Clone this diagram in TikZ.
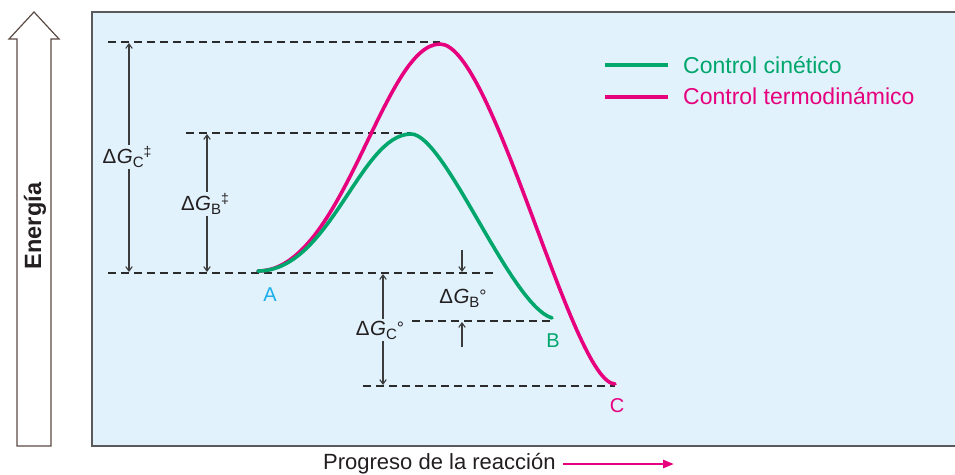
\documentclass[tikz,border=0pt]{standalone}
\usepackage{fontspec}
\setmainfont{Liberation Sans}
\usetikzlibrary{arrows.meta}
\definecolor{bgblue}{HTML}{E1F2FC}
\definecolor{kgreen}{HTML}{00A66B}
\definecolor{tmag}{HTML}{E6007E}
\definecolor{acyan}{HTML}{1AAEEA}
\definecolor{dashgray}{HTML}{2B2B2B}
\definecolor{dimgray}{HTML}{3C3C3C}
\definecolor{arrbrown}{HTML}{5B4A44}
\definecolor{framegray}{HTML}{5A5A5A}
\definecolor{inkblack}{HTML}{231F20}
\newcommand{\subtxt}[1]{\raisebox{-4pt}{\fontsize{15}{15}\selectfont #1}}
\newcommand{\dagtxt}{\raisebox{6.5pt}{\fontsize{14}{14}\selectfont ‡}}
\newcommand{\degtxt}{\raisebox{0.5pt}{\fontsize{18}{18}\selectfont °}}
\begin{document}
\begin{tikzpicture}[x=1pt,y=-1pt,
  guide/.style={draw=dashgray, line width=1.25pt, dash pattern=on 8pt off 5pt},
  dim/.style={draw=dimgray, line width=1.1pt, {Straight Barb[length=4.5pt,width=6.5pt]}-{Straight Barb[length=4.5pt,width=6.5pt]}},
  dimone/.style={draw=dimgray, line width=1.1pt, -{Straight Barb[length=4.5pt,width=6.5pt]}},
  lbl/.style={font=\fontsize{20.5}{22}\selectfont, text=inkblack, inner sep=1.5pt, fill=bgblue},
  curve/.style={line width=3.6pt, line cap=round},
  legtxt/.style={font=\fontsize{23}{27}\selectfont, anchor=base west, inner sep=0pt},
  ptlbl/.style={font=\fontsize{20}{22}\selectfont, inner sep=0pt}
]
\useasboundingbox (0,0) rectangle (955,474);
% panel
\fill[bgblue] (92,12) rectangle (955,446);
\draw[framegray, line width=1.6pt] (955,12) -- (92,12) -- (92,446) -- (955,446);
% energy arrow
\draw[arrbrown, line width=1.2pt, fill=white, line join=miter]
  (17,446) -- (17,39) -- (9,39) -- (34,12) -- (59,39) -- (51,39) -- (51,446) -- cycle;
\node[rotate=90, font=\bfseries\fontsize{23.5}{25}\selectfont, text=inkblack] (energia) at (35,226) {Energía};

% key points
\coordinate (A) at (258,271);
\coordinate (TSB) at (411,134);
\coordinate (TSC) at (440,44);
\coordinate (B) at (552,318);
\coordinate (C) at (615,384);

% dashed guide lines
\coordinate (g1a) at (108,42);  \coordinate (g1b) at (440,42);
\coordinate (g2a) at (186,133); \coordinate (g2b) at (411,133);
\coordinate (g3a) at (108,273); \coordinate (g3b) at (496,273);
\coordinate (g4a) at (412,321); \coordinate (g4b) at (552,321);
\coordinate (g5a) at (363,386); \coordinate (g5b) at (615,386);
\draw[guide] (g1a) -- (g1b);
\draw[guide] (g2a) -- (g2b);
\draw[guide] (g3a) -- (g3b);
\draw[guide] (g4a) -- (g4b);
\draw[guide] (g5a) -- (g5b);

% dimension arrows
\coordinate (dc1) at (129,43);  \coordinate (dc2) at (129,272);
\coordinate (db1) at (207,134); \coordinate (db2) at (207,272);
\coordinate (do1) at (383,274); \coordinate (do2) at (383,385);
\coordinate (bo1) at (462,250); \coordinate (bo2) at (462,272);
\coordinate (bo3) at (462,347); \coordinate (bo4) at (462,322);
\draw[dim] (dc1) -- (dc2);
\draw[dim] (db1) -- (db2);
\draw[dim] (do1) -- (do2);
\draw[dimone] (bo1) -- (bo2);
\draw[dimone] (bo3) -- (bo4);

\node[lbl] (lGC) at (127,157) {Δ\kern0.5pt\textit{G}\subtxt{C}\dagtxt};
\node[lbl] (lGB) at (205,204) {Δ\kern0.5pt\textit{G}\subtxt{B}\dagtxt};
\node[lbl] (lGCo) at (380,330) {Δ\kern0.5pt\textit{G}\subtxt{C}\degtxt};
\node[lbl, fill=none] (lGBo) at (463,298) {Δ\kern0.5pt\textit{G}\subtxt{B}\degtxt};

% curves
\draw[curve, tmag] (A) .. controls (343,271) and (383,44) .. (TSC)
  .. controls (493,44) and (572,383) .. (C);
\draw[curve, kgreen] (A) .. controls (330,271) and (360,134) .. (TSB)
  .. controls (445,134) and (510,305) .. (B);

% point labels
\node[ptlbl, text=acyan] (lA) at (270,295) {A};
\node[ptlbl, text=kgreen] (lB) at (553,341) {B};
\node[ptlbl, text=tmag] (lC) at (617,406) {C};

% legend
\coordinate (k1) at (605,65); \coordinate (k2) at (668,65);
\coordinate (t1) at (605,97); \coordinate (t2) at (668,97);
\draw[kgreen, line width=4pt] (k1) -- (k2);
\draw[tmag, line width=4pt] (t1) -- (t2);
\node[legtxt, text=kgreen] (legK) at (683,73) {Control cinético};
\node[legtxt, text=tmag] (legT) at (683,104) {Control termodinámico};

% x axis label
\node[legtxt, font=\fontsize{22}{26}\selectfont, text=inkblack] (prog) at (323,469) {Progreso de la reacción};
\coordinate (pa) at (563,464); \coordinate (pb) at (674,464);
\draw[tmag, line width=2.5pt, -{Triangle[length=11pt,width=8pt]}] (pa) -- (pb);
\end{tikzpicture}
\end{document}
